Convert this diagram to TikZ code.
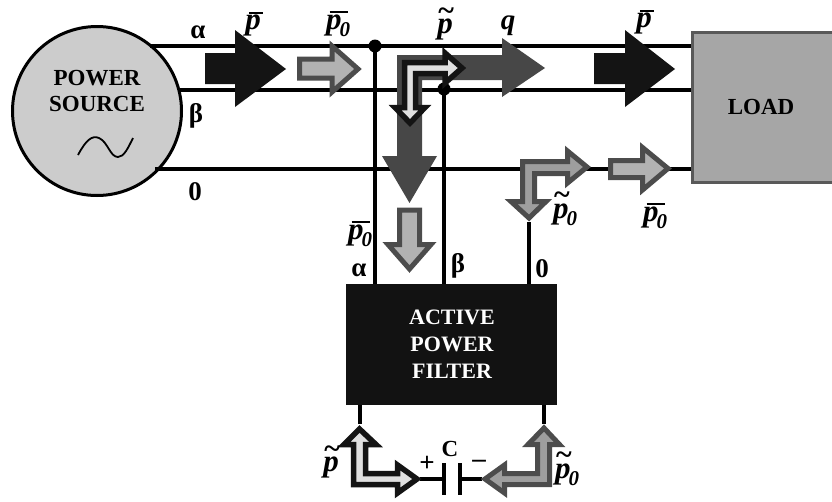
\documentclass[tikz,border=0pt]{standalone}
\usepackage{fontspec}
\setmainfont{Liberation Serif}
\newcommand{\pchar}{\fontsize{31}{31}\selectfont\bfseries\itshape p}
\newcommand{\zchar}{\fontsize{21}{21}\selectfont\bfseries\itshape 0}
\newcommand{\pbar}{\vbox{\offinterlineskip\hbox{\kern3.5pt\rule{14pt}{2.2pt}}\kern1.5pt\hbox{\pchar}}}
\newcommand{\pbz}{\vbox{\offinterlineskip\hbox{\kern3.5pt\rule{18pt}{2.2pt}}\kern1.5pt\hbox{\pchar\kern-2pt\raisebox{-7pt}{\zchar}}}}
\newcommand{\tildemark}{\raisebox{13.5pt}{\fontsize{30}{30}\selectfont\bfseries\char"007E}}
\newcommand{\ptl}{\hbox{\rlap{\kern1pt\tildemark}\pchar}}
\newcommand{\ptz}{\hbox{\ptl\kern-2pt\raisebox{-7pt}{\zchar}}}
\tikzset{
  wire/.style={draw=black,line width=3.2pt},
  dot/.style={circle,fill=black,inner sep=0pt,minimum size=13pt},
  txt/.style={font=\fontsize{23}{26}\selectfont\bfseries,inner sep=0pt,align=center},
  big/.style={font=\fontsize{27}{27}\selectfont\bfseries,inner sep=0pt},
  sym/.style={inner sep=0pt},
  grayarrow/.style={fill=#1,draw=black!70,line width=5pt,miter limit=10,line join=miter},
  blackout/.style={fill=#1,draw=black!92,line width=5.5pt,miter limit=10,line join=miter},
}
\begin{document}
\begin{tikzpicture}[x=1pt,y=-1pt]
\useasboundingbox (0,0) rectangle (832,501);
\node[circle,draw=black,line width=3pt,fill=black!20,minimum size=169pt,inner sep=0pt] (src) at (97,111) {};
\node[draw=black!65,line width=3pt,fill=black!35,minimum width=150pt,minimum height=150pt,inner sep=0pt,anchor=north west] (load) at (691,31) {};
\node[fill=black!93,minimum width=211pt,minimum height=121pt,inner sep=0pt,anchor=north west] (apf) at (346,284) {};
\coordinate (aL) at (150,46); \coordinate (aR) at (691,46);
\coordinate (bL) at (178,90); \coordinate (bR) at (691,90);
\coordinate (zL) at (155,169); \coordinate (zR) at (691,169);
\coordinate (aA) at (375,46); \coordinate (aB) at (375,284);
\coordinate (bA) at (444,89); \coordinate (bB) at (444,284);
\coordinate (zA) at (529,222); \coordinate (zB) at (529,284);
\coordinate (fL) at (360,405); \coordinate (fLd) at (360,424);
\coordinate (fR) at (544,405); \coordinate (fRd) at (544,424);
\coordinate (wL) at (420,479); \coordinate (pL) at (444,479);
\coordinate (pR) at (460,479); \coordinate (wR) at (482,479);
\draw[wire] (aL) -- (aR);
\draw[wire] (bL) -- (bR);
\draw[wire] (zL) -- (zR);
\draw[wire] (aA) -- (aB);
\draw[wire,line width=3.6pt] (bA) -- (bB);
\draw[wire] (zA) -- (zB);
\draw[wire] (fL) -- (fLd);
\draw[wire] (fR) -- (fRd);
\draw[wire] (wL) -- (pL);
\draw[wire] (pR) -- (wR);
\draw[draw=black,line width=4.5pt] (444,463) -- (444,495);
\draw[draw=black,line width=4.5pt] (460,463) -- (460,495);
\node[dot] (d1) at (aA) {};
\node[dot] (d2) at (bA) {};
\draw[line width=1.8pt] (78,155) .. controls (86,140) and (92,135) .. (99,138) .. controls (108,142) and (110,157) .. (118,157) .. controls (124,157) and (128,148) .. (133,138);
\fill[black!92] (205,53) -- (235,53) -- (235,30) -- (286,69) -- (235,107) -- (235,84) -- (205,84) -- cycle;
\fill[black!92] (594,53) -- (625,53) -- (625,30) -- (675,69) -- (625,107) -- (625,84) -- (594,84) -- cycle;
\fill[black!72] (545,68) -- (502,38) -- (502,55) -- (397,55) -- (397,156) -- (382,156) -- (409.5,203) -- (437,156) -- (422,156) -- (422,80) -- (502,80) -- (502,97) -- cycle;
\filldraw[grayarrow=black!30] (299.5,59) -- (332,59) -- (332,46) -- (358,69) -- (332,92) -- (332,78) -- (299.5,78) -- cycle;
\filldraw[grayarrow=black!30] (399.5,210) -- (419.5,210) -- (419.5,244.5) -- (431,244.5) -- (409.5,269) -- (388,244.5) -- (399.5,244.5) -- cycle;
\filldraw[grayarrow=black!30] (610.5,160.5) -- (642.5,160.5) -- (642.5,147.5) -- (668,168.5) -- (642.5,190) -- (642.5,177.5) -- (610.5,177.5) -- cycle;
\filldraw[grayarrow=black!38] (522.5,161.5) -- (567.5,161.5) -- (567.5,151) -- (587,167) -- (567.5,183) -- (567.5,173.5) -- (534.5,173.5) -- (534.5,201.5) -- (546,201.5) -- (529,218) -- (511,201.5) -- (522.5,201.5) -- cycle;
\filldraw[grayarrow=black!38] (485,479) -- (504.5,465) -- (504.5,473.5) -- (537.5,473.5) -- (537.5,444.5) -- (528,444.5) -- (544,428) -- (559.5,444.5) -- (549.5,444.5) -- (549.5,484.5) -- (504.5,484.5) -- (504.5,493) -- cycle;
\filldraw[blackout=black!12] (404.5,62.5) -- (445,62.5) -- (445,53) -- (462,68) -- (445,83) -- (445,73.5) -- (415.5,73.5) -- (415.5,107.5) -- (425,107.5) -- (410,123) -- (395,107.5) -- (404.5,107.5) -- cycle;
\filldraw[blackout=black!12] (359.5,429) -- (376,444.5) -- (365.5,444.5) -- (365.5,473.5) -- (397.5,473.5) -- (397.5,465) -- (417,479) -- (397.5,493) -- (397.5,484.5) -- (353.5,484.5) -- (353.5,444.5) -- (344,444.5) -- cycle;
\node[txt] (tsrc) at (97,91) {POWER\\SOURCE};
\node[txt] (tload) at (761,107) {LOAD};
\node[txt,text=white,font=\fontsize{22}{27}\selectfont\bfseries] (tapf) at (452,344) {ACTIVE\\POWER\\FILTER};
\node[big] (ta1) at (198,32) {α};
\node[big] (tb1) at (196,116) {β};
\node[big] (tz1) at (195,192) {0};
\node[big] (ta2) at (359,270) {α};
\node[big] (tb2) at (458,266) {β};
\node[big] (tz2) at (542,269) {0};
\node[sym] (s1) at (254,24) {\pbar};
\node[sym] (s2) at (338,24) {\pbz};
\node[sym] (s3) at (445,24) {\ptl};
\node[sym,font=\fontsize{29}{29}\selectfont\bfseries\itshape] (sq) at (508,26) {q};
\node[sym] (s4) at (645,22) {\pbar};
\node[sym] (s5) at (360,234) {\pbz};
\node[sym] (s6) at (565,209) {\ptz};
\node[sym] (s7) at (655,216) {\pbz};
\node[sym] (s8) at (331,462) {\ptl};
\node[sym] (s9) at (567,469) {\ptz};
\node[txt] (tc) at (450,449) {C};
\node[big] (tp) at (427,464) {+};
\node[big] (tm) at (479,464) {–};
\end{tikzpicture}
\end{document}
